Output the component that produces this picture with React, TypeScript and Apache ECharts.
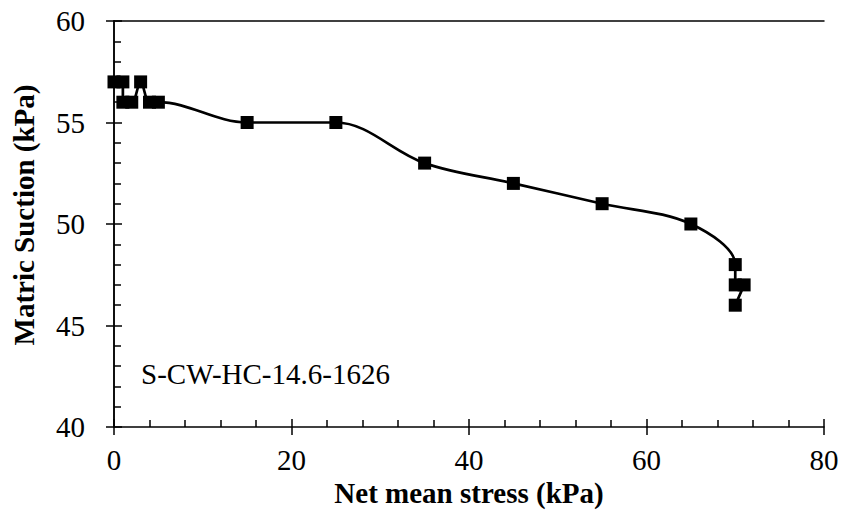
import React, { useEffect, useRef } from "react";
import * as echarts from "echarts";

const netMeanStress = [0, 1, 1, 2, 3, 4, 5, 15, 25, 35, 45, 55, 65, 70, 70, 71, 70];
const matricSuction = [57, 57, 56, 56, 57, 56, 56, 55, 55, 53, 52, 51, 50, 48, 47, 47, 46];
const xTicks = { min: 0, max: 80, interval: 20 };
const yTicks = { min: 40, max: 60, interval: 5 };
const sampleLabel = "S-CW-HC-14.6-1626";
const xTitle = "Net mean stress (kPa)";
const yTitle = "Matric Suction (kPa)";

const FONT = "Liberation Serif";
const FS = 29;

export default function App() {
  const ref = useRef<HTMLDivElement>(null);
  useEffect(() => {
    if (!ref.current) return;
    const chart = echarts.init(ref.current, null, { renderer: "svg" });
    const gridPos = { left: 114, right: 18, top: 21, bottom: 87 };
    const axisLineStyle = { color: "#000", width: 1.5 };
    const frameAxis = {
      type: "value",
      axisLine: { show: true, lineStyle: axisLineStyle },
      axisTick: { show: false },
      axisLabel: { show: false },
      splitLine: { show: false },
    };
    chart.setOption({
      animation: false,
      backgroundColor: "#fff",
      textStyle: { fontFamily: FONT },
      grid: [
        { ...gridPos, show: false },
        { ...gridPos, show: false },
      ],
      xAxis: [
        {
          type: "value",
          gridIndex: 0,
          ...xTicks,
          position: "bottom",
          name: xTitle,
          nameLocation: "middle",
          nameGap: 50,
          nameTextStyle: { fontFamily: FONT, fontSize: FS, fontWeight: "bold", color: "#000" },
          axisLine: { show: true, lineStyle: axisLineStyle },
          axisTick: { show: true, inside: true, length: 8, lineStyle: axisLineStyle },
          minorTick: { show: true, splitNumber: 5, length: 7, lineStyle: axisLineStyle },
          splitLine: { show: false },
          axisLabel: { fontFamily: FONT, fontSize: FS, color: "#000", margin: 18 },
        },
        {
          type: "value",
          gridIndex: 1,
          ...xTicks,
          position: "bottom",
          axisLine: { show: false },
          axisTick: { show: true, inside: false, length: 8, lineStyle: axisLineStyle },
          splitLine: { show: false },
          axisLabel: { show: false },
        },
        { ...frameAxis, gridIndex: 1, position: "top", ...xTicks },
      ],
      yAxis: [
        {
          type: "value",
          gridIndex: 0,
          ...yTicks,
          position: "left",
          name: yTitle,
          nameLocation: "middle",
          nameGap: 76,
          nameTextStyle: {
            fontFamily: FONT,
            fontSize: FS,
            fontWeight: "bold",
            color: "#000",
            padding: [0, 0, 0, 18],
          },
          axisLine: { show: true, lineStyle: axisLineStyle },
          axisTick: { show: true, inside: true, length: 8, lineStyle: axisLineStyle },
          minorTick: { show: true, splitNumber: 5, length: 7, lineStyle: axisLineStyle },
          splitLine: { show: false },
          axisLabel: { fontFamily: FONT, fontSize: FS, color: "#000", margin: 29 },
        },
        {
          type: "value",
          gridIndex: 1,
          ...yTicks,
          position: "left",
          axisLine: { show: false },
          axisTick: { show: true, inside: false, length: 8, lineStyle: axisLineStyle },
          splitLine: { show: false },
          axisLabel: { show: false },
        },
        { ...frameAxis, gridIndex: 1, position: "right", ...yTicks },
      ],
      graphic: [
        {
          type: "text",
          left: 141,
          top: 359,
          style: { text: sampleLabel, fontFamily: FONT, fontSize: FS, fill: "#000" },
        },
      ],
      series: [
        {
          type: "line",
          xAxisIndex: 0,
          yAxisIndex: 0,
          data: netMeanStress.map((x, i) => [x, matricSuction[i]]),
          smooth: 0.35,
          symbol: "rect",
          symbolSize: 13,
          itemStyle: { color: "#000" },
          lineStyle: { color: "#000", width: 2.7 },
          z: 3,
        },
      ],
    });
    return () => chart.dispose();
  }, []);
  return <div ref={ref} style={{ width: 842, height: 514, position: "absolute", left: 0, top: 0 }} />;
}
